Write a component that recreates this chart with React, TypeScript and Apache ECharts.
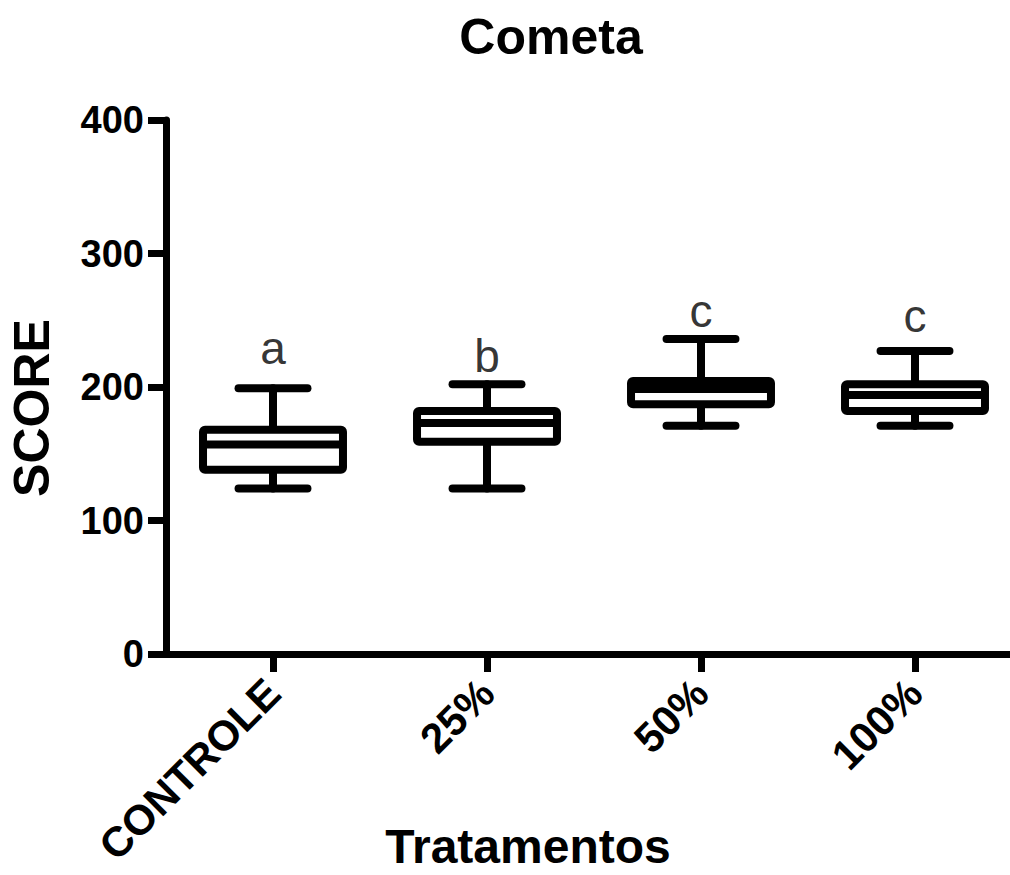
import React, { useEffect, useRef } from "react";
import * as echarts from "echarts";

const categories = ["CONTROLE", "25%", "50%", "100%"];
// [min, Q1, median, Q3, max]
const boxMin = [124, 124, 171, 171];
const boxQ1 = [138, 159, 187, 182];
const boxMedian = [157, 173, 198.5, 194];
const boxQ3 = [168, 182, 204.5, 202];
const boxMax = [199, 202, 236, 227];
const letters = ["a", "b", "c", "c"];
const letterY = [229, 223, 257, 253];
const yTicks = [0, 100, 200, 300, 400];

const FONT = '"Liberation Sans", Arial, sans-serif';

export default function App() {
  const ref = useRef<HTMLDivElement>(null);
  useEffect(() => {
    if (!ref.current) return;
    const chart = echarts.init(ref.current, null, { renderer: "svg" });
    const boxData = categories.map((_, i) => [i, boxMin[i], boxQ1[i], boxMedian[i], boxQ3[i], boxMax[i]]);
    const lineStyle = { stroke: "#000", lineWidth: 8, lineCap: "round", fill: null };
    chart.setOption({
      animation: false,
      backgroundColor: "#ffffff",
      title: {
        text: "Cometa",
        left: 546,
        top: 7,
        textAlign: "center",
        textStyle: { fontSize: 50, fontWeight: "bold", fontFamily: FONT, color: "#000" },
      },
      grid: { left: 166, top: 120, width: 856, height: 534, outerBoundsMode: "none", containLabel: false },
      xAxis: {
        type: "category",
        data: categories,
        boundaryGap: true,
        axisLine: { show: true, lineStyle: { color: "#000", width: 7 } },
        axisTick: { show: true, alignWithLabel: true, length: 18, lineStyle: { color: "#000", width: 7 } },
        axisLabel: {
          rotate: 45,
          margin: 32,
          color: "#000",
          fontSize: 42,
          fontWeight: "bold",
          fontFamily: FONT,
          interval: 0,
          hideOverlap: false,
        },
        splitLine: { show: false },
      },
      yAxis: {
        type: "value",
        min: yTicks[0],
        max: yTicks[yTicks.length - 1],
        interval: 100,
        axisLine: { show: true, lineStyle: { color: "#000", width: 7 } },
        axisTick: { show: true, length: 18, lineStyle: { color: "#000", width: 7 } },
        axisLabel: { margin: 22, color: "#000", fontSize: 38, fontWeight: "bold", fontFamily: FONT },
        splitLine: { show: false },
      },
      graphic: [
        {
          type: "text",
          x: 528,
          y: 846,
          style: {
            text: "Tratamentos",
            fill: "#000",
            font: `bold 48px ${FONT}`,
            textAlign: "center",
            textVerticalAlign: "middle",
          },
        },
        {
          type: "text",
          x: 32,
          y: 408,
          rotation: Math.PI / 2,
          style: {
            text: "SCORE",
            fill: "#000",
            font: `bold 50px ${FONT}`,
            textAlign: "center",
            textVerticalAlign: "middle",
          },
        },
      ],
      series: [
        {
          type: "custom",
          data: boxData,
          encode: { x: 0, y: [1, 2, 3, 4, 5] },
          renderItem: (params: any, api: any) => {
            const xi = api.value(0);
            const band = api.size([1, 0])[0];
            const half = band * 0.327;
            const capHalf = band * 0.161;
            const pMin = api.coord([xi, api.value(1)]);
            const pQ1 = api.coord([xi, api.value(2)]);
            const pMed = api.coord([xi, api.value(3)]);
            const pQ3 = api.coord([xi, api.value(4)]);
            const pMax = api.coord([xi, api.value(5)]);
            const cx = pMed[0];
            return {
              type: "group",
              children: [
                { type: "line", shape: { x1: cx, y1: pQ3[1], x2: cx, y2: pMax[1] }, style: lineStyle },
                { type: "line", shape: { x1: cx - capHalf, y1: pMax[1], x2: cx + capHalf, y2: pMax[1] }, style: lineStyle },
                { type: "line", shape: { x1: cx, y1: pQ1[1], x2: cx, y2: pMin[1] }, style: lineStyle },
                { type: "line", shape: { x1: cx - capHalf, y1: pMin[1], x2: cx + capHalf, y2: pMin[1] }, style: lineStyle },
                {
                  type: "rect",
                  shape: { x: cx - half, y: pQ3[1], width: half * 2, height: pQ1[1] - pQ3[1], r: 2 },
                  style: { fill: "#fff", stroke: "#000", lineWidth: 8, lineJoin: "round" },
                },
                { type: "line", shape: { x1: cx - half, y1: pMed[1], x2: cx + half, y2: pMed[1] }, style: { stroke: "#000", lineWidth: 8, lineCap: "butt" } },
              ],
            };
          },
        },
        {
          type: "scatter",
          data: letterY.map((v, i) => [i, v]),
          symbolSize: 1,
          itemStyle: { color: "rgba(0,0,0,0)" },
          label: {
            show: true,
            position: "inside",
            formatter: (p: any) => letters[p.dataIndex],
            fontSize: 46,
            color: "#000",
            textBorderWidth: 0,
            fontFamily: FONT,
          },
        },
      ],
    });
    return () => chart.dispose();
  }, []);
  return (
    <div
      ref={ref}
      style={{ position: "fixed", left: 0, top: 0, width: 1010, height: 875, background: "#fff" }}
    />
  );
}
